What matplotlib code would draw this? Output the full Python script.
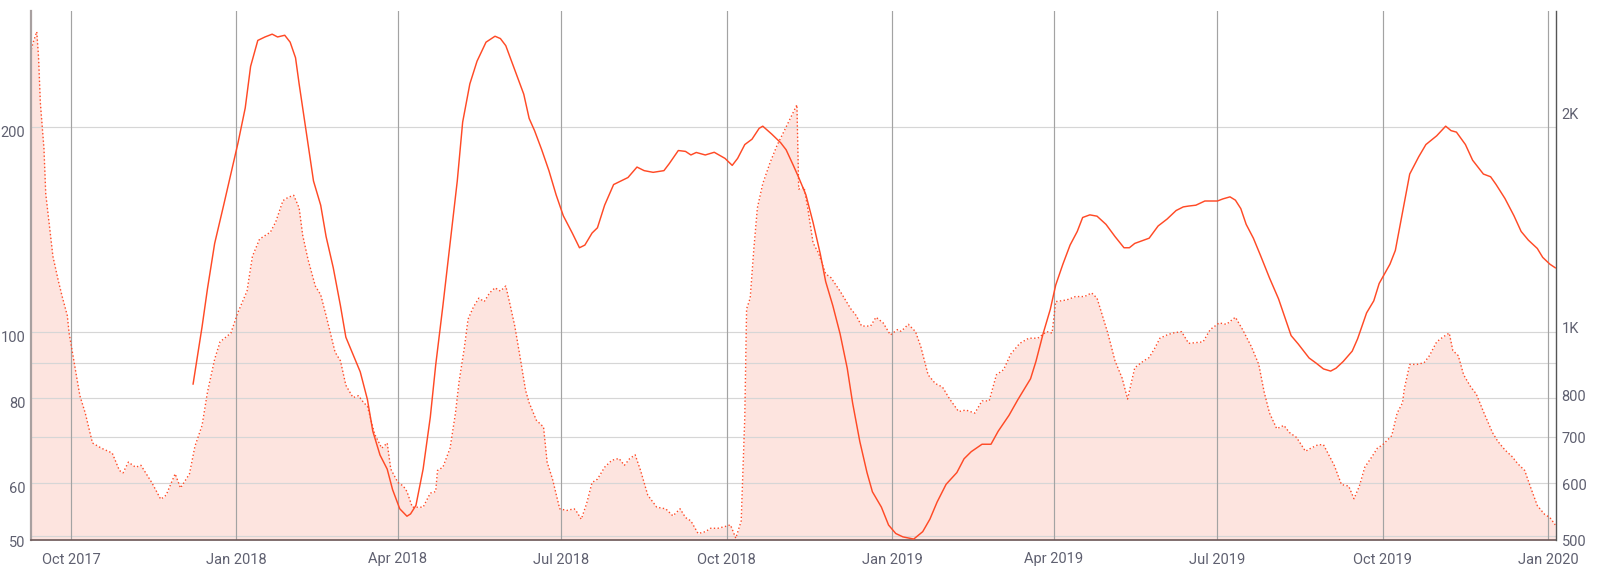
import pandas as pd
import matplotlib
matplotlib.use('Agg')
import matplotlib.pyplot as plt
import matplotlib.dates as mdates
from matplotlib.ticker import FixedLocator, NullFormatter
from matplotlib.transforms import ScaledTranslation

plt.rcParams['font.family'] = ['Roboto', 'DejaVu Sans']

BASE = pd.Timestamp('2018-01-01')

# dotted, filled series (left axis) -- days since 2018-01-01
area_days = [-114, -113, -111, -110, -109, -107, -106, -104, -102, -99,
             -97, -94, -93, -90, -87, -84, -80, -75, -69, -65,
             -63, -60, -56, -53, -47, -42, -39, -34, -31, -26,
             -23, -19, -16, -12, -9, -3, 1, 6, 9, 13,
             19, 22, 26, 29, 32, 35, 37, 40, 44, 47,
             50, 55, 58, 61, 65, 68, 71, 73, 77, 81,
             84, 86, 90, 93, 95, 98,
             104, 108, 111, 112, 115, 119, 122, 124, 127, 129,
             132, 135, 138, 141, 144, 147, 150, 152, 155, 158,
             161, 163, 167, 171, 173, 176, 180, 184, 188, 189,
             192, 195, 198, 201, 205, 209, 213, 216, 219, 222,
             225, 229, 234, 239, 243, 247, 250, 253, 257, 261,
             264, 268, 272, 275, 278, 281, 283, 284, 286, 288,
             290, 293, 297, 301, 304, 308, 312, 313,
             316, 318, 321, 324, 328, 331, 336, 342, 345, 348,
             353, 356, 360, 364, 368, 370, 374, 378, 381, 385,
             389, 393, 397, 402, 406, 411, 415, 419, 423, 427,
             431, 436, 441, 446, 451, 454, 456, 462, 467, 472,
             476, 479, 482, 485, 489, 493, 496, 500, 505, 508,
             511, 514, 518, 521, 526, 530,
             538, 542, 547, 551, 556, 560, 565, 569, 572, 575,
             579, 583, 586, 590, 595, 598, 602, 605, 609, 611,
             615, 619, 622, 625, 628, 632, 635, 638, 643, 646,
             649, 650, 653, 657, 661, 664, 668, 672, 675, 677,
             680, 683, 687, 690, 694, 699, 702, 706, 710, 713,
             717, 720, 724, 728, 731, 734]
area_vals = [260, 266, 276, 253, 217, 186, 159.5, 143.5, 129, 118.8,
             113, 105.6, 99.5, 89.5, 80.5, 75.9, 68.6, 67.4, 66.3, 62.5,
             62.0, 64.3, 63.2, 63.6, 60.0, 56.7, 57.5, 61.8, 58.9, 61.8,
             67.8, 72.8, 81.5, 91.1, 96.6, 99.5, 106.8, 114.7, 129, 136.8,
             140, 145, 155.8, 157.6, 158.6, 152, 138.5, 127.5, 116.7, 113.3,
             105.6, 93.3, 90.6, 83.4, 80, 80.5, 78.6, 77.7, 70.7, 67.4,
             68.6, 62.8, 60, 59.3, 58.2, 55.2,
             55.2, 57.9, 58.2, 62.5, 63.2, 67.4, 75.9, 84.4, 94.9, 104.3,
             108.7, 112, 110.7, 114, 116, 114.7, 116.7, 110.7, 101.9, 91.6,
             82, 78.6, 74.1, 72.4, 64.3, 60.7, 54.9, 54.6, 54.9, 54.6,
             53, 55.9, 60, 60.7, 63.2, 64.7, 65.1, 63.6, 65.1, 65.9,
             62.5, 57.5, 55.2, 54.9, 53.6, 54.9, 53.3, 52.7, 50.5, 50.8,
             51.4, 51.4, 51.7, 52.0, 49.7, 52.7, 75, 108, 112, 132,
             152, 165, 177, 188, 195, 205, 215.5, 162,
             163, 152, 135, 130.5, 121.6, 120, 114.7, 108, 105.6, 101.9,
             101.9, 105, 103, 98.9, 100.7, 100.1, 102.5, 100, 94.9, 86.4,
             83.9, 82.9, 79.6, 76.3, 76.7, 75.9, 79.1, 79.1, 86.4, 87.9,
             92.7, 96.1, 97.8, 97.8, 100, 99.5, 110.7, 111.3, 112.6, 112.6,
             114, 112, 105.6, 99.5, 90.6, 85.4, 79.6, 88.5, 90.6, 91.6,
             94.4, 97.8, 98.9, 99.5, 100, 96.1,
             96.6, 100.7, 103, 102.5, 105, 100.7, 94.9, 89.5, 81.5, 75.9,
             72, 72.8, 71.1, 69.9, 66.7, 67.4, 68.2, 68.2, 65.1, 63.6,
             59.6, 59.3, 56.8, 59.3, 63.2, 65.5, 67.4, 68.2, 70.3, 75.9,
             78.6, 82.4, 89.5, 89.5, 90, 92.2, 96.6, 98.4, 99.5, 93.8,
             92.2, 86.4, 82.9, 81, 76.3, 71.1, 69, 67, 65.5, 64,
             62.5, 59.3, 55.5, 53.9, 53.3, 52.0]

# solid series (right axis)
line_days = [-24, -19, -16, -12, -7, -3, 1, 5, 8, 12,
             16, 20, 23, 27, 30, 33, 35, 39, 43, 47,
             50, 54, 58, 61, 65, 69, 73, 76, 80, 84,
             87, 91, 95, 97, 100, 104, 108, 111, 115, 119,
             123, 126, 130, 134, 139, 144, 147, 150, 155, 160,
             163, 166, 170, 174, 178, 182, 187, 191, 194, 198,
             201, 205, 210, 214, 218, 223, 227, 232, 238, 241,
             246, 250, 253, 256, 261, 266, 272, 276, 279, 283,
             287, 291, 293, 298, 303, 306, 310, 313, 317, 321,
             325, 328, 332, 336, 340, 343, 347, 351, 354, 359,
             363, 367, 371, 377, 382, 386, 390, 395, 401, 405,
             409, 415, 420, 424, 430, 435, 442, 445, 449, 453,
             456, 460, 464, 468, 471, 475, 479, 484, 489, 494,
             497, 500, 508, 513, 518, 523, 527, 530, 534, 539,
             546, 549, 553, 556, 559, 562, 566, 570, 575, 580,
             584, 587, 591, 597, 601, 605, 609, 612, 616, 621,
             624, 629, 633, 636, 642, 645, 649, 653, 658, 662,
             668, 673, 676, 679, 684, 688, 694, 698, 701, 706,
             711, 715, 719, 724, 727, 731, 734]
line_vals = [818, 985, 1114, 1290, 1460, 1615, 1787, 2000, 2289, 2490,
             2518, 2541, 2518, 2532, 2476, 2354, 2163, 1848, 1579, 1460,
             1319, 1192, 1054, 952, 900, 851, 778, 702, 650, 621,
             581, 546, 533, 537, 552, 621, 735, 870, 1054, 1290,
             1579, 1911, 2163, 2328, 2476, 2524, 2505, 2448, 2263, 2092,
             1934, 1859, 1747, 1633, 1510, 1411, 1334, 1272, 1283, 1334,
             1357, 1460, 1561, 1579, 1597, 1652, 1633, 1624, 1633, 1671,
             1743, 1738, 1718, 1732, 1718, 1733, 1699, 1661, 1699, 1777,
             1808, 1873, 1886, 1838, 1787, 1747, 1661, 1597, 1510, 1380,
             1247, 1140, 1054, 963, 861, 769, 679, 614, 577, 549,
             518, 504, 498.5, 495, 507, 528, 558, 591, 614, 642,
             657, 673, 673, 702, 739, 778, 832, 880, 963, 1042,
             1127, 1206, 1283, 1341, 1403, 1415, 1409, 1372, 1319, 1272,
             1272, 1290, 1312, 1365, 1396, 1435, 1452, 1456, 1460, 1480,
             1480, 1490, 1500, 1484, 1444, 1372, 1312, 1240, 1153, 1078,
             1007, 957, 931, 890, 875, 859, 853, 861, 880, 910,
             947, 1030, 1071, 1133, 1206, 1261, 1427, 1615, 1708, 1777,
             1828, 1886, 1859, 1850, 1777, 1689, 1615, 1601, 1562, 1492,
             1411, 1341, 1304, 1269, 1233, 1206, 1192]

left_ticks = [50, 60, 80, 100, 200]
left_labels = ['50', '60', '80', '100', '200']
grid_levels = [50, 60, 70, 80, 90, 100, 200]
right_ticks = [500, 600, 700, 800, 1000, 2000]
right_labels = ['500', '600', '700', '800', '1K', '2K']
quarters = ['2017-10-01', '2018-01-01', '2018-04-01', '2018-07-01', '2018-10-01',
            '2019-01-01', '2019-04-01', '2019-07-01', '2019-10-01', '2020-01-01']

RED = '#ff4a26'
FILL = '#fde4df'
TXT = '#5f6070'

area_x = BASE + pd.to_timedelta(area_days, unit='D')
line_x = BASE + pd.to_timedelta(line_days, unit='D')

fig = plt.figure(figsize=(16, 5.72), dpi=100)
ax = fig.add_axes([31/1600, 32/572, 1525/1600, 529/572])
ax2 = ax.twinx()

lo, hi = 49.4, 296.0
ax.set_yscale('log')
ax.set_ylim(lo, hi)
ax2.set_yscale('log')
ax2.set_ylim(493.5, 2739)

ax.fill_between(area_x, lo, area_vals, color=FILL, lw=0, zorder=1)
for g in grid_levels:
    ax.axhline(g, color='#d6d6d6', lw=0.85, zorder=1.5)
for q in quarters:
    ax.axvline(pd.Timestamp(q), color='#a3a3a3', lw=0.85, zorder=1.5)
ax.plot(area_x, area_vals, color=RED, lw=1.0, ls=(0, (1, 1.7)), zorder=2)

ax2.plot(line_x, line_vals, color=RED, lw=1.05, zorder=3,
         solid_joinstyle='round')

ax.set_yticks(left_ticks)
ax.set_yticklabels(left_labels)
ax.yaxis.set_minor_locator(FixedLocator([]))
ax.yaxis.set_minor_formatter(NullFormatter())
ax2.set_yticks(right_ticks)
ax2.set_yticklabels(right_labels)
ax2.yaxis.set_minor_locator(FixedLocator([]))
ax2.yaxis.set_minor_formatter(NullFormatter())

ax.set_xlim(BASE + pd.Timedelta(days=-114.2), BASE + pd.Timedelta(days=734.4))
ax.set_xticks([pd.Timestamp(q) for q in quarters])
ax.xaxis.set_major_formatter(mdates.DateFormatter('%b %Y'))

ax.tick_params(axis='y', length=0, pad=4, labelsize=10.5, labelcolor=TXT, which='both')
ax.tick_params(axis='x', length=0, pad=9, labelsize=10.5, labelcolor=TXT)
ax2.tick_params(axis='y', length=0, pad=4, labelsize=10.5, labelcolor=TXT, which='both')

# value labels sit a little below their lines
shift = ScaledTranslation(0, -5/100, fig.dpi_scale_trans)
for lab in ax.get_yticklabels() + ax2.get_yticklabels():
    lab.set_transform(lab.get_transform() + shift)

for a in (ax, ax2):
    a.spines['top'].set_visible(False)
ax.spines['right'].set_visible(False)
ax2.spines['left'].set_visible(False)
ax2.spines['bottom'].set_visible(False)
ax.spines['left'].set_color('#a8a0a0')
ax.spines['left'].set_linewidth(1.6)
ax.spines['bottom'].set_color('#6b5858')
ax.spines['bottom'].set_linewidth(1.2)
ax2.spines['right'].set_color('#555555')
ax2.spines['right'].set_linewidth(1.0)

fig.savefig('out.png', dpi=100)
